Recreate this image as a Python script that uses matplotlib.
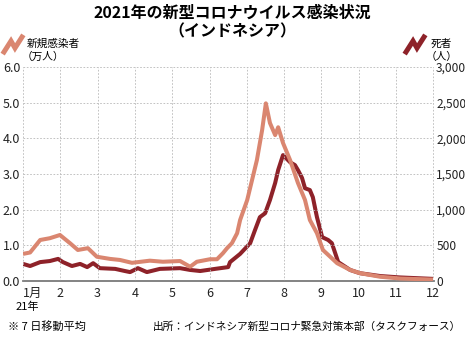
import matplotlib
matplotlib.use('Agg')
import matplotlib.pyplot as plt
from matplotlib.lines import Line2D

plt.rcParams['font.family'] = ['Noto Sans CJK JP', 'DejaVu Sans']

# 7-day averages, x in months since 2021-01-01
caseMonths = [0.0, 0.19, 0.46, 0.72, 0.99, 1.26, 1.47, 1.74, 1.98, 2.33, 2.60, 2.92,
              3.08, 3.40, 3.75, 4.21, 4.48, 4.66, 5.01, 5.20, 5.36, 5.47, 5.60, 5.74,
              5.82, 6.01, 6.14, 6.27, 6.41, 6.51, 6.62, 6.76, 6.84, 6.97, 7.16, 7.37,
              7.56, 7.69, 7.88, 8.04, 8.42, 8.77, 9.03, 9.57, 10.11, 10.99]
cases = [0.76, 0.80, 1.15, 1.20, 1.29, 1.06, 0.87, 0.92, 0.68, 0.62, 0.59, 0.51,
         0.53, 0.57, 0.54, 0.56, 0.40, 0.54, 0.61, 0.61, 0.78, 0.92, 1.06, 1.34,
         1.71, 2.27, 2.83, 3.39, 4.23, 4.98, 4.43, 4.09, 4.31, 3.87, 3.39, 2.75,
         2.27, 1.71, 1.34, 0.87, 0.50, 0.31, 0.22, 0.12, 0.07, 0.04]  # 万人

deathMonths = [0.0, 0.19, 0.46, 0.72, 0.94, 1.07, 1.31, 1.53, 1.72, 1.88, 2.06, 2.47,
               2.73, 2.87, 3.08, 3.32, 3.67, 4.21, 4.48, 4.75, 5.15, 5.50, 5.55, 5.82,
               6.09, 6.22, 6.35, 6.49, 6.62, 6.76, 6.84, 6.97, 7.16, 7.29, 7.37, 7.48,
               7.56, 7.69, 7.77, 7.88, 8.02, 8.18, 8.28, 8.45, 8.77, 9.03, 9.57, 10.11,
               10.99]
deaths = [240, 210, 265, 280, 310, 265, 210, 240, 195, 250, 180, 170,
          140, 125, 180, 125, 170, 180, 155, 140, 170, 195, 265, 380,
          530, 715, 895, 950, 1135, 1375, 1555, 1765, 1665, 1625, 1555, 1445,
          1300, 1275, 1175, 895, 615, 575, 530, 265, 155, 110, 70, 50,
          30]  # 人

monthLabels = ['1月', '2', '3', '4', '5', '6', '7', '8', '9', '10', '11', '12']
leftTicks = [0, 1, 2, 3, 4, 5, 6]
rightTicks = [0, 500, 1000, 1500, 2000, 2500, 3000]

caseColor = '#da8670'
deathColor = '#8e2229'
gridColor = '#b8b8b8'
numFont = ['Liberation Sans Narrow', 'Noto Sans CJK JP']

fig = plt.figure(figsize=(4.65, 3.4), dpi=100)
ax = fig.add_axes([0.0495, 0.1735, 0.884, 0.6295])
ax2 = ax.twinx()

ax.plot(caseMonths, cases, color=caseColor, lw=2.9, solid_capstyle='butt', zorder=3)
ax2.plot(deathMonths, deaths, color=deathColor, lw=2.9, solid_capstyle='butt', zorder=3)

ax.set_xlim(0, 11.02)
ax.set_ylim(0, 6)
ax2.set_ylim(0, 3000)

ax.set_xticks(range(12))
ax.set_xticklabels(monthLabels, fontsize=9, family=numFont)
# shift "1月" so the numeral sits near its tick
ax.get_xticklabels()[0].set_horizontalalignment('left')
ax.get_xticklabels()[0].set_x(-0.1)
ax.set_yticks(leftTicks)
ax.set_yticklabels(['%.1f' % v for v in leftTicks], fontsize=9, family=numFont)
ax2.set_yticks(rightTicks)
ax2.set_yticklabels(['{:,}'.format(v) for v in rightTicks], fontsize=8.6, family=numFont)

ax.grid(True, color=gridColor, ls=(0, (2, 2)), lw=0.6)
ax.tick_params(axis='x', length=0, pad=4.5, colors='#222222')
ax.tick_params(axis='y', length=0, pad=2, colors='#222222')
ax2.tick_params(length=0, pad=1.5, colors='#222222')
for a in (ax, ax2):
    for side in ('top', 'left', 'right'):
        a.spines[side].set_visible(False)
    a.spines['bottom'].set_color('#808080')
    a.spines['bottom'].set_linewidth(1.1)
ax.set_zorder(ax2.get_zorder() + 1)
ax.patch.set_visible(False)

# year under the January label
fig.text(27 / 465, 1 - 307 / 340, '21年', fontsize=8, ha='center', va='center')

# title
fig.text(0.5, 1 - 13 / 340, '2021年の新型コロナウイルス感染状況', fontsize=11.5,
         weight='bold', ha='center', va='center')
fig.text(0.5, 1 - 31 / 340, '（インドネシア）', fontsize=11.5,
         weight='bold', ha='center', va='center')

# legend keys
def zigzag(x0, y0, color):
    xs = [x0, x0 + 7, x0 + 11, x0 + 18]
    ys = [y0, y0 - 11, y0 - 4, y0 - 15]
    fig.add_artist(Line2D([x / 465 for x in xs], [1 - y / 340 for y in ys],
                          color=color, lw=3.6, solid_joinstyle='miter'))

zigzag(4, 52, caseColor)
zigzag(406, 52, deathColor)
fig.text(27 / 465, 1 - 44 / 340, '新規感染者', fontsize=7.7, ha='left', va='center')
fig.text(22 / 465, 1 - 57 / 340, '（万人）', fontsize=7.7, ha='left', va='center')
fig.text(431 / 465, 1 - 44 / 340, '死者', fontsize=7.7, ha='left', va='center')
fig.text(426 / 465, 1 - 57 / 340, '（人）', fontsize=7.7, ha='left', va='center')

# footer
fig.text(8 / 465, 1 - 327 / 340, '※ 7 日移動平均', fontsize=8, ha='left', va='center')
fig.text(461 / 465, 1 - 327 / 340, '出所：インドネシア新型コロナ緊急対策本部（タスクフォース）',
         fontsize=7.7, ha='right', va='center')

fig.savefig('out.png', dpi=100)
